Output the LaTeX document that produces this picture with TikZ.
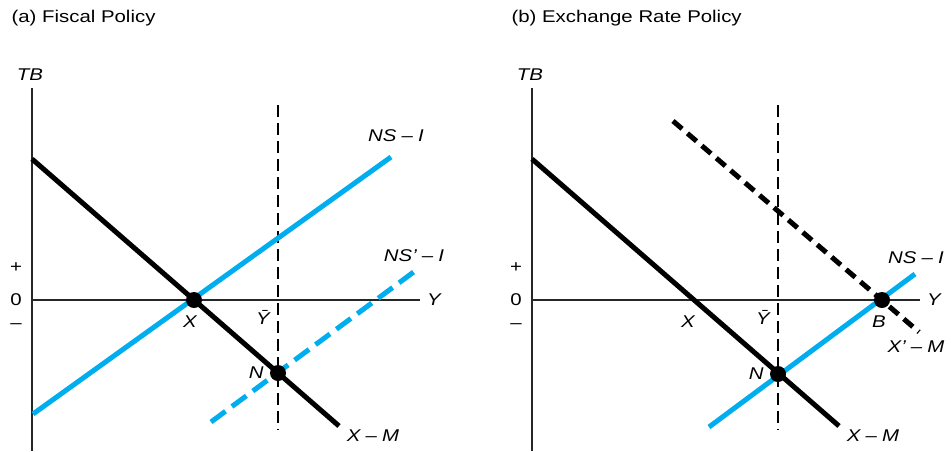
\documentclass[tikz,border=0pt]{standalone}
\usepackage{fontspec}
\setmainfont{Liberation Sans}[FakeStretch=1.2]
\usetikzlibrary{positioning}
\definecolor{ncyan}{HTML}{00AEEF}
\newcommand{\figsize}{\fontsize{17}{20}\selectfont}
\tikzset{
  axisline/.style = {line width=1.3pt, black!85},
  curve/.style    = {line width=5pt},
  nscurve/.style  = {curve, ncyan},
  nsshift/.style  = {curve, ncyan, dash pattern=on 18pt off 8pt},
  xmshift/.style  = {curve, dash pattern=on 12pt off 7pt},
  fullemp/.style  = {line width=2pt, dash pattern=on 12pt off 6pt},
  eqdot/.style    = {fill, circle, inner sep=0pt, minimum size=16pt},
  lbl/.style      = {font=\figsize\itshape, inner sep=1pt},
  sgn/.style      = {inner sep=1pt},
}
\newcommand{\mns}{\hspace{.3em}--\hspace{.3em}}

\begin{document}
\begin{tikzpicture}[x=1pt, y=-1pt, font=\figsize]
\useasboundingbox (0,0) rectangle (951,451);
% ================= (a) fiscal policy =================
\node[anchor=west] (titleA) at (8,18) {(a) Fiscal Policy};
% ---- axes ----
\coordinate (topA) at (32,88);
\coordinate (botA) at (32,451);
\coordinate (oA)   at (32,300);
\coordinate (endA) at (420,300);
\draw[axisline] (topA) -- (botA);
\draw[axisline] (oA) -- (endA);
\node[lbl] (tbA) at (30,75) {TB};
\node[lbl, anchor=west] (yA) at (426,300) {Y};
\node[sgn] (plusA)  at (16,268) {+};
\node[sgn] (zeroA)  at (16,300) {0};
\node[sgn] (minusA) at (16,326) {--};
% ---- full employment ----
\coordinate (fuA) at (278,105);
\coordinate (fdA) at (278,430);
\draw[fullemp] (fuA) -- (fdA);
\node[lbl] (ybarA) at (263,317) {\=Y};
% ---- X - M ----
\coordinate (xmsA) at (32,159);
\coordinate (xmeA) at (339,426);
\draw[curve] (xmsA) -- (xmeA);
\node[lbl] (xmA) at (373,436) {X\mns M};
% ---- NS - I ----
\coordinate (nssA) at (33,414);
\coordinate (nseA) at (391,157);
\draw[nscurve] (nssA) -- (nseA);
\node[lbl] (nsA) at (396,136) {NS\mns I};
% ---- NS' - I ----
\coordinate (nspsA) at (211,422);
\coordinate (nspeA) at (415,271);
\draw[nsshift] (nspsA) -- (nspeA);
\node[lbl] (nspA) at (414,256) {NS’\mns I};
% ---- equilibria ----
\node[eqdot] (xA) at (194,300) {};
\node[eqdot] (nA) at (278,373) {};
\node[lbl] (xlA) at (190,322) {X};
\node[lbl, left=5pt of nA] (nlA) {N};
% ================= (b) exchange rate policy =================
\node[anchor=west] (titleB) at (508,18) {(b) Exchange Rate Policy};
% ---- axes ----
\coordinate (topB) at (532,88);
\coordinate (botB) at (532,451);
\coordinate (oB)   at (532,300);
\coordinate (endB) at (920,300);
\draw[axisline] (topB) -- (botB);
\draw[axisline] (oB) -- (endB);
\node[lbl] (tbB) at (530,75) {TB};
\node[lbl, anchor=west] (yB) at (926,300) {Y};
\node[sgn] (plusB)  at (516,268) {+};
\node[sgn] (zeroB)  at (516,300) {0};
\node[sgn] (minusB) at (516,326) {--};
% ---- full employment ----
\coordinate (fuB) at (778,105);
\coordinate (fdB) at (778,430);
\draw[fullemp] (fuB) -- (fdB);
\node[lbl] (ybarB) at (763,317) {\=Y};
% ---- X - M ----
\coordinate (xmsB) at (532,159);
\coordinate (xmeB) at (839,426);
\draw[curve] (xmsB) -- (xmeB);
\node[lbl] (xmB) at (873,436) {X\mns M};
\node[lbl] (xlB) at (688,322) {X};
% ---- X' - M ----
\coordinate (xmpsB) at (673,121);
\coordinate (xmpeB) at (919,332);
\draw[xmshift] (xmpsB) -- (xmpeB);
\node[lbl] (xmpB) at (916,347) {X’\mns M};
% ---- NS - I ----
\coordinate (nssB) at (709,427);
\coordinate (nseB) at (915,274);
\draw[nscurve] (nssB) -- (nseB);
\node[lbl] (nsB) at (916,258) {NS\mns I};
% ---- equilibria ----
\node[eqdot] (nB) at (778,374) {};
\node[eqdot] (bB) at (882,300) {};
\node[lbl, left=5pt of nB] (nlB) {N};
\node[lbl] (blB) at (879,322) {B};
\end{tikzpicture}
\end{document}
